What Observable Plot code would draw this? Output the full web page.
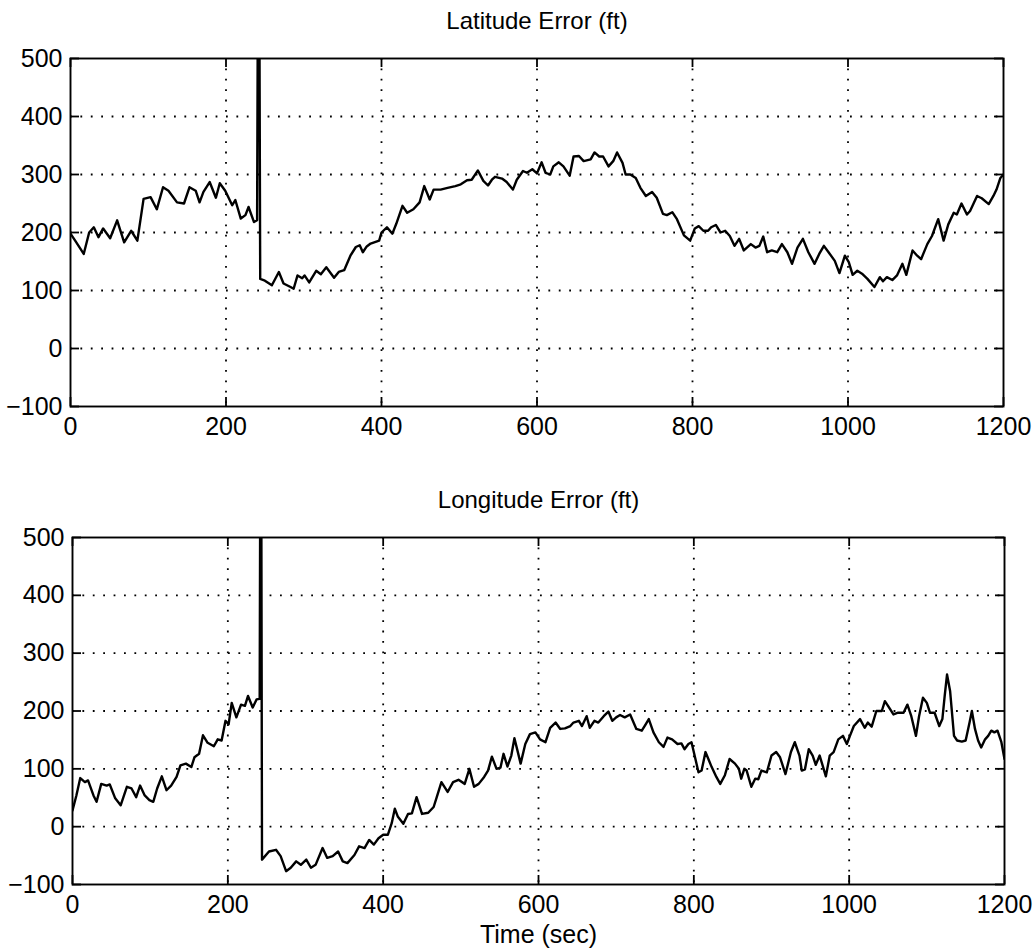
<!DOCTYPE html>
<html>
<head>
<meta charset="utf-8">
<script src="https://cdn.jsdelivr.net/npm/d3@7"></script>
<script src="https://cdn.jsdelivr.net/npm/@observablehq/plot@0.6"></script>
<style>
  html, body { margin: 0; padding: 0; background: #fff; }
  #chart svg { display: block; }
</style>
</head>
<body>
<div id="chart"></div>
<script>
// ---- Data ----
const latTitle = "Latitude Error (ft)";
const lonTitle = "Longitude Error (ft)";
const xAxisLabel = "Time (sec)";
const xTicks = [0, 200, 400, 600, 800, 1000, 1200];
const yTicks = [-100, 0, 100, 200, 300, 400, 500];

const latTime = [0,6,17,24,30,36,42,51,60,69,78,86,94,103,111,119,126,137,146,153,161,166,171,179,187,192,199,208,212,219,225,229,236,240,242,244,250,259,268,274,283,287,292,298,301,307,316,322,329,339,345,352,360,367,372,376,381,386,397,400,407,414,419,427,433,441,449,455,462,467,476,485,495,502,510,516,524,531,537,542,546,555,561,569,574,582,587,594,600,606,611,617,621,628,634,642,647,654,660,669,674,680,685,692,698,703,710,714,720,727,733,740,748,754,762,767,774,780,789,797,803,808,814,820,824,830,836,842,848,854,860,866,875,881,886,891,896,902,909,915,922,928,935,942,949,957,963,969,975,983,989,996,1001,1006,1012,1018,1025,1034,1041,1045,1050,1057,1063,1070,1075,1083,1089,1094,1102,1108,1116,1123,1129,1136,1140,1146,1153,1157,1166,1172,1181,1187,1191,1196,1200];
const latError = [198,186,163,200,209,192,207,190,221,183,203,186,258,261,240,278,272,252,250,278,272,252,270,287,260,285,272,247,256,224,230,244,218,221,1000,120,117,109,132,112,106,103,126,121,126,114,134,128,140,122,132,135,160,175,178,166,176,181,186,200,209,198,215,246,234,240,252,280,257,274,274,277,280,283,290,291,307,289,281,291,296,293,287,274,291,306,303,309,302,321,303,300,314,321,314,298,331,332,323,326,338,331,331,314,323,338,320,300,300,294,277,263,270,260,232,230,235,223,195,186,207,211,203,203,209,213,200,203,194,177,189,169,180,174,177,193,166,169,166,180,166,146,174,189,166,146,163,177,166,151,130,160,149,127,134,129,120,106,123,116,123,118,126,146,127,169,160,154,180,194,223,186,214,234,231,250,231,237,263,259,249,263,274,294,300];

const lonTime = [0,5,10,16,20,27,31,37,44,48,55,62,70,76,82,87,93,99,104,109,115,121,127,134,139,146,153,157,163,168,174,182,187,192,197,201,205,211,217,222,226,232,237,241,242.5,244,253,262,268,275,281,288,294,301,307,313,322,328,335,342,348,354,363,369,376,382,388,394,400,406,411,415,419,426,432,437,443,450,458,465,469,475,483,490,497,505,511,517,523,530,535,540,546,551,555,560,565,569,573,577,583,589,596,602,609,615,622,628,634,641,645,652,656,662,666,672,677,684,690,695,700,705,711,718,726,733,738,742,748,755,761,766,772,779,784,788,793,797,801,806,810,815,823,829,834,840,846,853,858,861,865,868,874,879,883,887,894,900,906,911,918,925,930,936,939,943,948,953,957,962,970,975,980,986,992,997,1001,1006,1014,1020,1024,1029,1035,1042,1046,1050,1057,1063,1070,1075,1080,1086,1090,1095,1100,1104,1110,1116,1120,1123,1126,1130,1135,1139,1145,1150,1155,1158,1162,1166,1170,1175,1179,1183,1187,1191,1196,1200];
const lonError = [28,54,84,77,80,54,43,74,71,73,49,37,69,66,51,71,54,46,43,66,87,63,71,86,106,109,103,120,126,158,145,139,151,149,183,177,214,189,211,209,226,206,220,221,1000,-57,-43,-40,-51,-77,-71,-60,-66,-57,-71,-66,-37,-54,-51,-43,-60,-63,-49,-34,-37,-23,-31,-20,-14,-14,6,31,17,5,22,23,51,22,24,34,51,77,60,77,81,74,100,69,74,86,97,121,100,102,126,104,123,153,131,109,143,160,163,151,146,171,180,169,170,174,180,183,174,191,171,183,180,191,199,183,189,193,189,194,169,166,177,186,163,146,138,154,151,143,144,134,143,146,123,94,97,129,103,86,74,89,117,109,100,83,100,97,69,83,82,97,94,123,129,120,91,129,146,123,97,99,134,123,107,123,87,123,129,151,157,143,157,174,186,171,180,173,200,200,217,209,194,197,197,211,191,157,191,223,214,197,197,174,186,226,263,234,157,149,147,149,180,200,169,149,137,151,157,166,163,166,146,117];

// ---- Drawing ----
const FONT = "'Liberation Sans', Arial, Helvetica, sans-serif";

function panel({time, values, title, xlabel, height, marginTop, marginBottom, marginLeft, marginRight}) {
  const width = 1036;
  const plotW = width - marginLeft - marginRight;
  const plotH = height - marginTop - marginBottom;
  const data = time.map((t, i) => ({t, v: values[i]}));
  const inner = xTicks.filter(d => d > 0 && d < 1200);
  const innerY = yTicks.filter(d => d > -100 && d < 500);
  const dots = {stroke: "black", strokeOpacity: 1, strokeWidth: 1.8, strokeDasharray: "1.8,8.6"};
  const tickStyle = {stroke: "black", strokeWidth: 1.8};
  const marks = [
    Plot.gridX(inner, dots),
    Plot.gridY(innerY, dots),
    Plot.line(data, {x: "t", y: "v", stroke: "black", strokeWidth: 2.4, strokeLinejoin: "round", clip: true}),
    Plot.frame({stroke: "black", strokeWidth: 1.9}),
    Plot.tickX(xTicks, {x: d => d, ...tickStyle, insetBottom: plotH - 9}),
    Plot.tickX(xTicks, {x: d => d, ...tickStyle, insetTop: plotH - 9}),
    Plot.tickY(yTicks, {y: d => d, ...tickStyle, insetRight: plotW - 9}),
    Plot.tickY(yTicks, {y: d => d, ...tickStyle, insetLeft: plotW - 9}),
    Plot.axisX(xTicks, {tickSize: 0, tickPadding: 11, label: null, fontSize: 25, tickFormat: d => String(d)}),
    Plot.axisY(yTicks, {tickSize: 0, tickPadding: 8, label: null, fontSize: 25, tickFormat: d => d < 0 ? "\u2212" + Math.abs(d) : String(d)}),
    Plot.text([title], {frameAnchor: "top", lineAnchor: "middle", dy: -37, fontSize: 24, fill: "black"})
  ];
  if (xlabel) marks.push(Plot.text([xlabel], {frameAnchor: "bottom", lineAnchor: "middle", dy: 50, fontSize: 25, fill: "black"}));
  return Plot.plot({
    width, height, marginTop, marginBottom, marginLeft, marginRight,
    style: {fontFamily: FONT, fontSize: "25px", color: "black", background: "white"},
    x: {domain: [0, 1200], axis: null},
    y: {domain: [-100, 500], axis: null},
    marks
  });
}

const chart = document.getElementById("chart");
chart.append(panel({time: latTime, values: latError, title: latTitle, xlabel: null,
  height: 476, marginTop: 58, marginBottom: 70, marginLeft: 70, marginRight: 33}));
chart.append(panel({time: lonTime, values: lonError, title: lonTitle, xlabel: xAxisLabel,
  height: 476, marginTop: 61, marginBottom: 68, marginLeft: 72, marginRight: 32}));
</script>
</body>
</html>
